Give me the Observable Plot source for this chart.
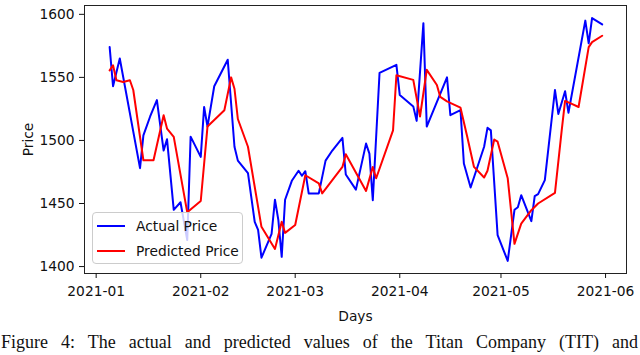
<!DOCTYPE html>
<html>
<head>
<meta charset="utf-8">
<script src="https://cdn.jsdelivr.net/npm/d3@7"></script>
<script src="https://cdn.jsdelivr.net/npm/@observablehq/plot@0.6"></script>
<style>
  html, body { margin: 0; padding: 0; background: #fff; overflow: hidden; }
  #wrap { position: relative; width: 640px; height: 355px; }
  #legend {
    position: absolute; left: 92px; top: 212px; width: 151px; height: 52px;
    box-sizing: border-box; border: 1px solid #cccccc; border-radius: 4px;
    background: rgba(255,255,255,0.8);
    font-family: "DejaVu Sans", sans-serif; font-size: 13.8px; color: #111;
  }
  .row { position: absolute; left: 4px; height: 20px; display: flex; align-items: center; }
  .sw { width: 28px; height: 2px; margin-right: 11px; }
  #caption {
    position: absolute; left: 1px; top: 333px; width: 637px; height: 19px;
    font-family: "Liberation Serif", "DejaVu Serif", serif; font-size: 18px; line-height: 19px; color: #111;
    text-align: justify; text-align-last: justify; white-space: nowrap;
  }
</style>
</head>
<body>
<div id="wrap">
  <div id="chart"></div>
  <div id="legend">
    <div class="row" style="top:3px"><div class="sw" style="background:#0000ff"></div>Actual Price</div>
    <div class="row" style="top:28px"><div class="sw" style="background:#ff0000"></div>Predicted Price</div>
  </div>
  <div id="caption"></div>
</div>
<script>
const actualDates = [
  "2021-01-05","2021-01-06","2021-01-08","2021-01-14","2021-01-15","2021-01-17","2021-01-19",
  "2021-01-21","2021-01-22","2021-01-24","2021-01-26","2021-01-28","2021-01-29","2021-02-01",
  "2021-02-02","2021-02-03","2021-02-05","2021-02-09","2021-02-11","2021-02-12","2021-02-15",
  "2021-02-17","2021-02-18","2021-02-19","2021-02-22","2021-02-23","2021-02-24","2021-02-25",
  "2021-02-26","2021-02-28","2021-03-02","2021-03-03","2021-03-04","2021-03-05","2021-03-08",
  "2021-03-10","2021-03-12","2021-03-15","2021-03-16","2021-03-19","2021-03-22","2021-03-23",
  "2021-03-24","2021-03-26","2021-03-31","2021-04-01","2021-04-05","2021-04-06","2021-04-08",
  "2021-04-09","2021-04-15","2021-04-16","2021-04-19","2021-04-20","2021-04-22","2021-04-26",
  "2021-04-27","2021-04-28","2021-04-30","2021-05-03","2021-05-05","2021-05-06","2021-05-07",
  "2021-05-10","2021-05-11","2021-05-12","2021-05-14","2021-05-17","2021-05-18","2021-05-20",
  "2021-05-21","2021-05-26","2021-05-27","2021-05-28","2021-05-31"
];
const actualPrices = [
  1574,1543,1565,1478,1504,1519,1532,
  1492,1501,1445,1451,1421,1503,1487,
  1526.5,1511,1543,1564,1495,1484,1474,
  1435.5,1429,1407,1426,1453,1437,1407.7,
  1453,1468,1476,1472,1475.6,1458,1458,
  1484,1492,1502,1473,1461,1497.5,1489.6,
  1452.6,1553.5,1560,1536,1527,1515.5,1593,
  1511,1550,1520,1524,1481.7,1462.7,1495,
  1510,1508,1425,1404.5,1445,1447,1456.6,
  1436,1455.8,1457.4,1468.5,1540,1521,1539,
  1522,1595,1577,1597,1592
];
const predictedDates = [
  "2021-01-05","2021-01-06","2021-01-07","2021-01-09","2021-01-11","2021-01-12","2021-01-15",
  "2021-01-18","2021-01-21","2021-01-22","2021-01-24","2021-01-28","2021-02-01","2021-02-03",
  "2021-02-08","2021-02-10","2021-02-11","2021-02-12","2021-02-15","2021-02-19","2021-02-23",
  "2021-02-25","2021-02-26","2021-03-01","2021-03-04","2021-03-08","2021-03-09","2021-03-15",
  "2021-03-16","2021-03-22","2021-03-24","2021-03-25","2021-03-30","2021-03-31","2021-04-05",
  "2021-04-07","2021-04-09","2021-04-12","2021-04-13","2021-04-15","2021-04-19","2021-04-21",
  "2021-04-23","2021-04-26","2021-04-27","2021-04-29","2021-04-30","2021-05-03","2021-05-05",
  "2021-05-07","2021-05-10","2021-05-12","2021-05-17","2021-05-19","2021-05-20","2021-05-22",
  "2021-05-24","2021-05-27","2021-05-28","2021-05-31"
];
const predictedPrices = [
  1555.6,1559.6,1547.7,1546.4,1547.7,1540,1484.3,
  1484.3,1520,1509.4,1502.8,1443,1452,1511,
  1524,1550,1541,1517,1495,1431.5,1414,
  1435.5,1426.7,1433,1472.4,1466,1458,1479,
  1489,1460,1479,1470,1508,1551.7,1548,
  1519,1556,1544,1534.5,1531,1526,1503,
  1479,1470.6,1476,1500.7,1499,1470,1418,
  1434,1444.7,1450,1458.4,1508,1531.3,1529,
  1526.5,1574,1578,1583
];
const yTicks = [1400, 1450, 1500, 1550, 1600];
const xLabel = "Days";
const yLabel = "Price";
const captionText = "Figure 4: The actual and predicted values of the Titan Company (TIT) and";

document.getElementById("caption").textContent = captionText;

const actual = actualDates.map((d, i) => ({date: new Date(d), price: actualPrices[i]}));
const predicted = predictedDates.map((d, i) => ({date: new Date(d), price: predictedPrices[i]}));

const font = "DejaVu Sans, sans-serif";
const chart = Plot.plot({
  width: 640,
  height: 330,
  marginLeft: 84,
  marginRight: 14,
  marginTop: 5,
  marginBottom: 57,
  style: {fontFamily: font, fontSize: "13.8px", color: "#111", background: "white"},
  x: {type: "utc", domain: [new Date("2020-12-28T13:00Z"), new Date("2021-06-07T05:00Z")]},
  y: {domain: [1394.5, 1607]},
  marks: [
    Plot.line(actual, {x: "date", y: "price", stroke: "#0000ff", strokeWidth: 2}),
    Plot.line(predicted, {x: "date", y: "price", stroke: "#ff0000", strokeWidth: 2}),
    Plot.frame({stroke: "#222", strokeWidth: 1}),
    Plot.axisX({ticks: d3.utcMonth.every(1), tickFormat: d3.utcFormat("%Y-%m"), tickSize: 5, tickPadding: 8,
      label: xLabel, labelAnchor: "center", labelArrow: "none", labelOffset: 47, fontSize: 13.8}),
    Plot.axisY({ticks: yTicks, tickFormat: d => String(d), tickSize: 5, tickPadding: 5,
      label: yLabel, labelAnchor: "center", labelArrow: "none", labelOffset: 61, fontSize: 13.8})
  ]
});
document.getElementById("chart").appendChild(chart);
</script>
</body>
</html>
